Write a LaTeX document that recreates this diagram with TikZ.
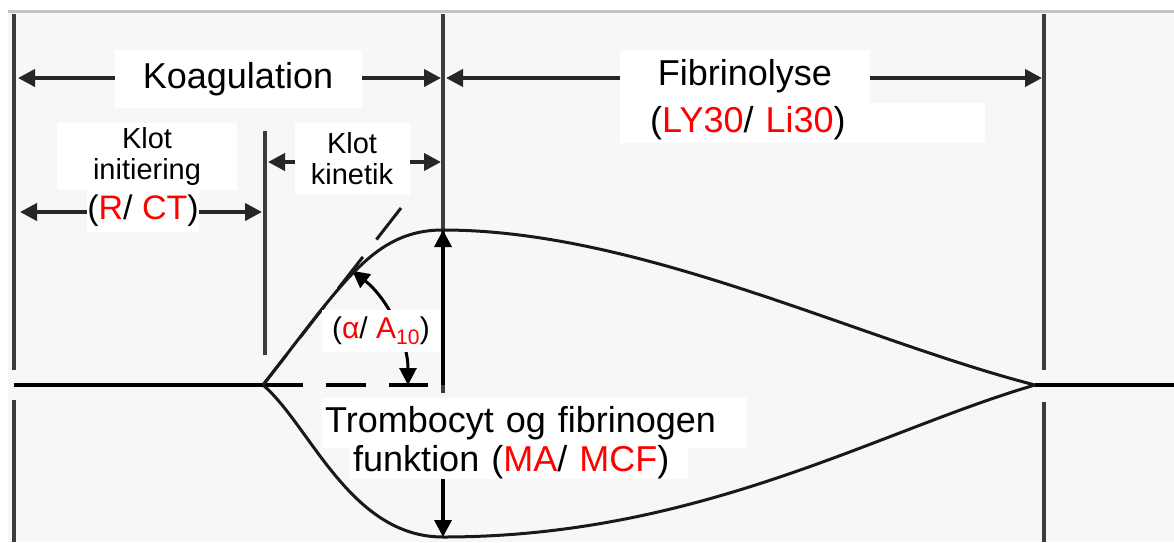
\documentclass[tikz,border=0pt]{standalone}
\usepackage{fontspec}
\setmainfont{Liberation Sans}
\definecolor{maaling}{HTML}{FF0000}
\definecolor{flade}{HTML}{F7F7F7}
\definecolor{kant}{HTML}{C4C4C4}
\definecolor{streg}{HTML}{3C3C3C}
\usetikzlibrary{arrows.meta}

\tikzset{
  tidspil/.style={line width=4pt, draw=black!85,
    {Triangle[length=17pt,width=17pt]}-{Triangle[length=17pt,width=17pt]}},
  skel/.style={line width=3.6pt, draw=streg},
  akse/.style={line width=3.2pt, draw=black},
  kurve/.style={line width=3pt, draw=black!90},
  etiket/.style={fill=white, inner sep=0pt},
  stor/.style={font=\fontsize{36}{38}\selectfont},
  lille/.style={font=\fontsize{29}{31}\selectfont}
}

\begin{document}
\begin{tikzpicture}[x=1pt, y=-1pt]
\useasboundingbox (0,0) rectangle (1174,542);
\fill[white] (0,0) rectangle (1174,542);
\fill[flade] (8,11) rectangle (1174,542);
\draw[kant, line width=3pt] (8,11) -- (1174,11);

% punkter paa kurven
\coordinate (start) at (263,385);
\coordinate (top) at (443,230);
\coordinate (bund) at (443,537);
\coordinate (slut) at (1035,385);

% lodrette skillelinjer
\draw[skel] (14,14) -- (14,370);
\draw[skel] (14,400) -- (14,542);
\draw[skel] (265,131) -- (265,355);
\draw[skel] (443,14) -- (443,393);
\draw[skel] (1044,14) -- (1044,370);
\draw[skel] (1044,402) -- (1044,542);

% akse
\draw[akse] (14,385) -- (start);
\draw[akse, dash pattern=on 40pt off 23pt] (start) -- (428,385);
\draw[akse] (slut) -- (1174,385);

% tangent og vinkel
\draw[kurve, dash pattern=on 40pt off 22pt] (401,208) -- (start);
\draw[line width=3pt, {Triangle[length=17pt,width=17pt]}-{Triangle[length=17pt,width=17pt]}]
  (408,385) arc[start angle=0, end angle=52, radius=145pt];

% kurven
\draw[kurve] (start) .. controls (343,283) and (373,230) .. (top)
  .. controls (640,230) and (860,340) .. (slut);
\draw[kurve] (start) .. controls (310,425) and (350,537) .. (bund)
  .. controls (700,537) and (880,430) .. (slut);

\draw[line width=3.5pt, -{Triangle[length=17pt,width=17pt]}] (443,385) -- (top);
\draw[line width=3.5pt, -{Triangle[length=17pt,width=17pt]}] (443,478) -- (bund);

% tidsintervaller
\coordinate (k1) at (18,78);
\coordinate (k2) at (441,78);
\coordinate (f1) at (446,78);
\coordinate (f2) at (1042,78);
\coordinate (r1) at (20,212);
\coordinate (r2) at (262,212);
\coordinate (n1) at (268,162);
\coordinate (n2) at (441,162);
\draw[tidspil] (k1) -- (k2);
\draw[tidspil] (f1) -- (f2);
\draw[tidspil] (r1) -- (r2);
\draw[tidspil] (n1) -- (n2);

% tekster
\node[etiket, stor, minimum width=247pt, minimum height=58pt] (koag) at (238,79) {Koagulation};
\node[etiket, stor, minimum width=250pt, minimum height=53pt] (fib) at (745,76) {Fibrinolyse};
\node[etiket, stor, anchor=west, text width=305pt, inner xsep=30pt, align=left,
      minimum height=40pt] (lyse) at (620,123)
  {(\textcolor{maaling}{LY30}/ \textcolor{maaling}{Li30})};
\node[etiket, lille, align=center, minimum width=180pt, minimum height=67pt] (init) at (147,156) {Klot\\initiering};
\node[etiket, font=\fontsize{34}{36}\selectfont, minimum width=110pt, minimum height=42pt] (rct) at (143,211)
  {(\textcolor{maaling}{R}/ \textcolor{maaling}{CT})};
\node[etiket, lille, align=center, minimum width=115pt, minimum height=72pt] (kin) at (352,159) {Klot\\kinetik};
\node[etiket, font=\fontsize{30}{32}\selectfont, minimum width=118pt, minimum height=42pt] (alfa) at (381,331)
  {(\textcolor{maaling}{α}/ \textcolor{maaling}{A\textsubscript{10}})};
\node[etiket, stor, anchor=west, text width=419pt, inner xsep=3pt, align=left,
      minimum height=50pt] (trom) at (322,423) {Trombocyt og fibrinogen};
\node[etiket, stor, anchor=west, text width=332pt, inner xsep=3pt, align=left] (funk) at (350,462)
  {funktion (\textcolor{maaling}{MA}/ \textcolor{maaling}{MCF})};
\end{tikzpicture}
\end{document}
